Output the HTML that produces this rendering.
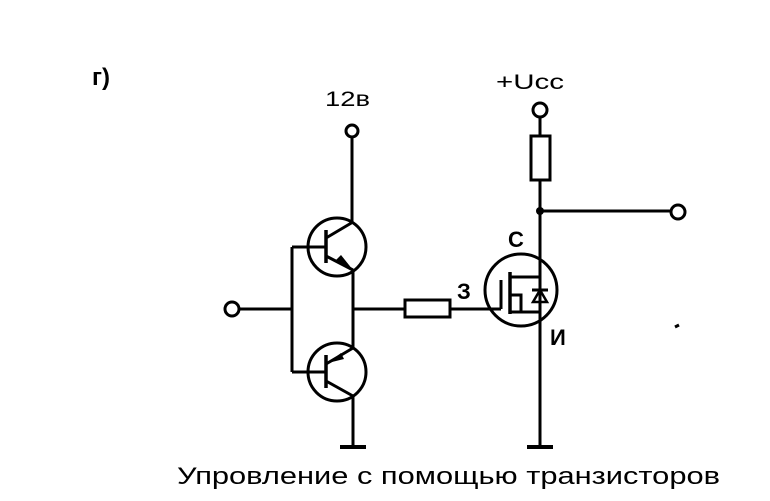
<!DOCTYPE html>
<html><head><meta charset="utf-8"><style>
body{margin:0;background:#fff;width:770px;height:501px;overflow:hidden}
svg{display:block}
text{font-family:"Liberation Sans","DejaVu Sans",sans-serif;fill:#000}
</style></head><body>
<svg width="770" height="501" viewBox="0 0 770 501" xmlns="http://www.w3.org/2000/svg">
<g stroke="#000" stroke-width="3" fill="none">
<circle cx="232" cy="309" r="7"/>
<line x1="239" y1="309" x2="292" y2="309"/>
<line x1="292" y1="247" x2="292" y2="372"/>
<line x1="292" y1="247" x2="326" y2="247"/>
<line x1="292" y1="372" x2="326" y2="372"/>
<circle cx="337" cy="247" r="29"/>
<line x1="326" y1="230" x2="326" y2="263" stroke-width="3.5"/>
<line x1="326" y1="238" x2="353" y2="222"/>
<line x1="326" y1="256" x2="353" y2="270"/>
<line x1="352" y1="137" x2="352" y2="223"/>
<circle cx="352" cy="131" r="6"/>
<circle cx="337" cy="372" r="29"/>
<line x1="326" y1="355" x2="326" y2="388" stroke-width="3.5"/>
<line x1="326" y1="364" x2="353" y2="348"/>
<line x1="326" y1="381" x2="353" y2="396"/>
<line x1="353" y1="270" x2="353" y2="348"/>
<line x1="353" y1="396" x2="353" y2="447"/>
<line x1="340" y1="447" x2="366" y2="447" stroke-width="4"/>
<line x1="353" y1="309" x2="405" y2="309"/>
<rect x="405" y="300" width="45" height="17"/>
<line x1="450" y1="309" x2="501" y2="309"/>
<circle cx="521" cy="290" r="36"/>
<line x1="501" y1="280" x2="501" y2="309"/>
<line x1="510" y1="272" x2="510" y2="314" stroke-width="3.5"/>
<line x1="510" y1="277" x2="540" y2="277"/>
<line x1="510" y1="312" x2="540" y2="312"/>
<polyline points="510,295 521,295 521,312"/>
<line x1="540" y1="117" x2="540" y2="136"/>
<circle cx="540" cy="110" r="7"/>
<rect x="531" y="136" width="19" height="44"/>
<line x1="540" y1="180" x2="540" y2="447"/>
<line x1="527" y1="447" x2="553" y2="447" stroke-width="4"/>
<line x1="540" y1="211" x2="671" y2="211"/>
<circle cx="678" cy="212" r="7"/>
<line x1="532" y1="290" x2="548" y2="290"/>
<line x1="675" y1="327" x2="679" y2="325"/>
</g>
<polygon points="540,290 533,302 547,302" fill="none" stroke="#000" stroke-width="2.5"/>
<polygon points="353,270 336,260 341,255" fill="#000"/>
<polygon points="328,363 341,353 344,359" fill="#000"/>
<circle cx="540" cy="211" r="4" fill="#000"/>
<text x="92" y="85" font-size="24" font-weight="bold">г)</text>
<text x="325" y="106" font-size="21" textLength="45" lengthAdjust="spacingAndGlyphs">12в</text>
<text x="496" y="89" font-size="21" textLength="68" lengthAdjust="spacingAndGlyphs">+Ucc</text>
<text x="508" y="247" font-size="22" font-weight="bold">С</text>
<text x="457" y="299" font-size="22" font-weight="bold">З</text>
<text x="550" y="345" font-size="22" font-weight="bold">И</text>
<text x="177" y="484" font-size="24" textLength="543" lengthAdjust="spacingAndGlyphs">Упровление с помощью транзисторов</text>
</svg>
</body></html>
